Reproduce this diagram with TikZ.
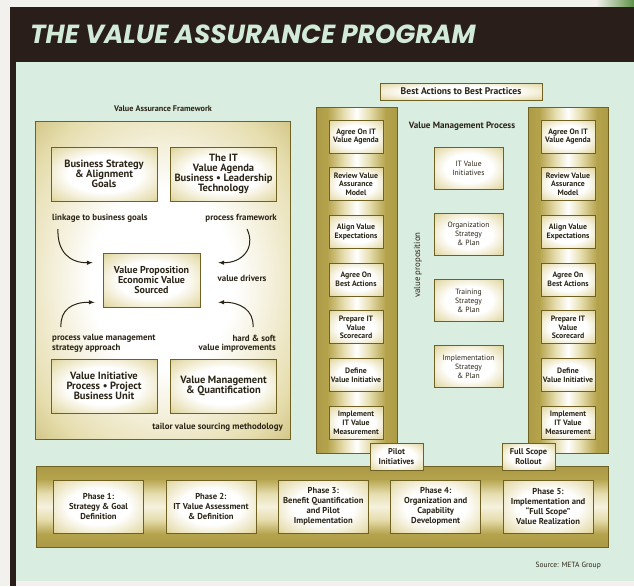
\documentclass[tikz,border=0pt]{standalone}
\usepackage{fontspec}
\setmainfont{PT Sans}
\newfontfamily\titlefont{Poppins}
\usepackage{tikz}
\usetikzlibrary{arrows}

\definecolor{paper}{HTML}{F2F1ED}
\definecolor{mint}{HTML}{DAEDE1}
\definecolor{banner}{HTML}{2A1E1B}
\definecolor{titlegreen}{HTML}{D2EBD8}
\definecolor{leaf}{HTML}{5E9248}
\definecolor{olive}{HTML}{6E6122}
\definecolor{gold}{HTML}{B5A34C}
\definecolor{palegold}{HTML}{E6DDAE}
\definecolor{ink}{HTML}{2A2416}

\pgfdeclareradialshading{goldglow}{\pgfpoint{0bp}{0bp}}{color(0bp)=(white); color(17bp)=(white); color(32bp)=(palegold); color(45bp)=(gold); color(72bp)=(gold!75!olive)}
\pgfdeclareradialshading{goldframe}{\pgfpoint{0bp}{0bp}}{color(0bp)=(white); color(14bp)=(white); color(30bp)=(palegold); color(44bp)=(gold); color(72bp)=(gold!70!olive)}
\pgfdeclarehorizontalshading{goldcol}{100bp}{color(0bp)=(gold!88!olive); color(25bp)=(gold!88!olive); color(32bp)=(gold); color(42bp)=(palegold); color(50bp)=(white); color(58bp)=(palegold); color(68bp)=(gold); color(75bp)=(gold!88!olive); color(100bp)=(gold!88!olive)}
\pgfdeclareverticalshading{goldbar}{100bp}{color(0bp)=(gold!85!olive); color(25bp)=(gold!85!olive); color(33bp)=(gold); color(42bp)=(palegold); color(50bp)=(white!60!palegold); color(58bp)=(palegold); color(67bp)=(gold); color(75bp)=(gold!85!olive); color(100bp)=(gold!85!olive)}

\begin{document}
\begin{tikzpicture}[x=1pt,y=-1pt,
    frame/.style={draw=olive, line width=0.8pt, shade, inner sep=0pt},
    panel/.style={draw=olive, line width=0.7pt, shade, shading=goldglow, text=ink, align=center, inner sep=0pt},
    bigbox/.style={panel, minimum width=106pt, minimum height=54pt, font=\fontsize{10.5}{10.2}\selectfont\bfseries},
    stepbox/.style={panel, minimum width=54pt, minimum height=33pt, font=\fontsize{7.8}{8.7}\selectfont\bfseries},
    planbox/.style={panel, minimum width=69pt, minimum height=42pt, font=\fontsize{7.6}{9}\selectfont},
    phasebox/.style={panel, minimum width=90pt, minimum height=53pt, font=\fontsize{8.6}{10.2}\selectfont\bfseries},
    tagbox/.style={panel, minimum width=53pt, minimum height=27pt, font=\fontsize{8.4}{9.8}\selectfont\bfseries},
    note/.style={text=ink, inner sep=0pt, font=\fontsize{8.9}{9.5}\selectfont\bfseries},
    flow/.style={-latex, line width=1pt, draw=ink}]
  \useasboundingbox (0,0) rectangle (634,586);
  \fill[paper] (0,0) rectangle (634,586);
  \fill[left color=paper, right color=leaf] (596,0) rectangle (634,8);
  \fill[banner] (10,7) rectangle (634,62);
  \fill[banner] (10,62) rectangle (16,586);
  \fill[mint] (16,62) rectangle (634,581);
  \node[anchor=base west, inner sep=0pt, text=titlegreen, font=\titlefont\fontsize{26.2}{26.2}\selectfont\bfseries\itshape] (title) at (30,44) {THE VALUE ASSURANCE PROGRAM};

  % value assurance framework
  \node[note, font=\fontsize{8.2}{9}\selectfont\bfseries] (vaflabel) at (163,109) {Value Assurance Framework};
  \node[frame, shading=goldframe, minimum width=255pt, minimum height=318pt] (vaf) at (162.5,280) {};
  \node[bigbox] (bs) at (104,174) {Business Strategy\\\& Alignment\\Goals};
  \node[bigbox] (agenda) at (223.5,174) {The IT\\Value Agenda\\Business \textbullet{} Leadership\\Technology};
  \node[bigbox, minimum width=97pt, font=\fontsize{10}{10.2}\selectfont\bfseries] (vp) at (151.5,280) {Value Proposition\\Economic Value\\Sourced};
  \node[bigbox] (vi) at (104,386) {Value Initiative\\Process \textbullet{} Project\\Business Unit};
  \node[bigbox] (vm) at (223.5,386) {Value Management\\\& Quantification};
  \node[note, anchor=west] (linkage) at (52,218) {linkage to business goals};
  \node[note, anchor=east] (pframe) at (277,218) {process framework};
  \node[note] (drivers) at (242,278) {value drivers};
  \node[note, anchor=west, align=left] (pvm) at (52,343.5) {process value management\\strategy approach};
  \node[note, anchor=east, align=right] (hsoft) at (276,343.5) {hard \& soft\\value improvements};
  \node[note, anchor=east] (tailor) at (283,427) {tailor value sourcing methodology};
  \coordinate (a1) at (58,229);
  \coordinate (a2) at (247,229);
  \coordinate (a3) at (61,327);
  \coordinate (a4) at (253,327);
  \draw[flow] (a1) .. controls (57,252) and (70,263) .. ([shift={(-10,10)}]vp.north west);
  \draw[flow] (a2) .. controls (256,248) and (242,263) .. ([shift={(18,10)}]vp.north east);
  \draw[flow] (a3) .. controls (60,310) and (72,302) .. ([shift={(-8,-5)}]vp.south west);
  \draw[flow] (a4) .. controls (254,310) and (240,302) .. ([shift={(18,-5)}]vp.south east);

  % value management process
  \node[panel, minimum width=162pt, minimum height=17pt, font=\fontsize{9.6}{10}\selectfont\bfseries] (best) at (461,91.5) {Best Actions to Best Practices};
  \node[frame, shading=goldcol, minimum width=81pt, minimum height=346pt] (lcol) at (356.5,280) {};
  \node[frame, shading=goldcol, minimum width=80pt, minimum height=346pt] (rcol) at (568,280) {};
  \node[note, font=\fontsize{9.1}{10}\selectfont\bfseries] (vmp) at (462,126) {Value Management Process};
  \foreach \txt [count=\i] in {{Agree On IT\\Value Agenda},{Review Value\\Assurance\\Model},{Align Value\\Expectations},{Agree On\\Best Actions},{Prepare IT\\Value\\Scorecard},{Define\\Value Initiative},{Implement\\IT Value\\Measurement}}{
    \node[stepbox] (l\i) at (356,88.8+47.7*\i) {\txt};
    \node[stepbox] (r\i) at (568,88.8+47.7*\i) {\txt};
  }
  \foreach \txt [count=\i] in {{IT Value\\Initiatives},{Organization\\Strategy\\\& Plan},{Training\\Strategy\\\& Plan},{Implementation\\Strategy\\\& Plan}}
    \node[planbox] (plan\i) at (468.5,101.8+66.2*\i) {\txt};
  \node[note, rotate=90, font=\fontsize{8.8}{9}\selectfont] (vprop) at (418,265) {value proposition};

  % phases
  \node[frame, shading=goldbar, minimum width=572pt, minimum height=81pt] (phases) at (322,506.5) {};
  \foreach \txt [count=\i] in {{Phase 1:\\Strategy \& Goal\\Definition},{Phase 2:\\IT Value Assessment\\\& Definition},{Phase 3:\\Benefit Quantification\\and Pilot\\Implementation},{Phase 4:\\Organization and\\Capability\\Development},{Phase 5:\\Implementation and\\``Full Scope''\\Value Realization}}
    \node[phasebox] (ph\i) at (-13.9+112.4*\i,506.5) {\txt};
  \node[tagbox] (pilot) at (396.5,456.5) {Pilot\\Initiatives};
  \node[tagbox] (rollout) at (528.5,456.5) {Full Scope\\Rollout};
  \node[note, anchor=east, font=\fontsize{7.5}{8}\selectfont] (source) at (601,566) {Source: META Group};
\end{tikzpicture}
\end{document}
